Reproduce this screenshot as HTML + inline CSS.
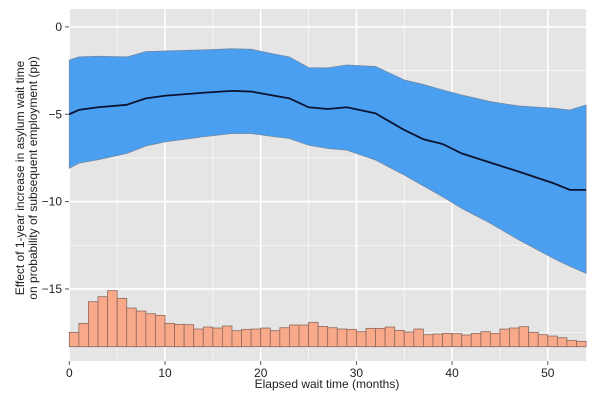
<!DOCTYPE html>
<html><head><meta charset="utf-8"><style>
html,body{margin:0;padding:0;background:#fff;}
svg{display:block;font-family:"Liberation Sans",sans-serif;}
</style></head><body>
<svg id="chart" width="593" height="405" viewBox="0 0 593 405">
<rect x="69" y="9" width="517" height="352" fill="#e5e5e5"/>
<g id="grid"></g>
<g id="band"></g>
<g id="mean"></g>
<g id="hist"></g>
<g id="axes"></g>
<text x="327" y="388" font-size="12" text-anchor="middle" fill="#222">Elapsed wait time (months)</text>
<text transform="translate(24,178) rotate(-90)" font-size="12" text-anchor="middle" fill="#222"><tspan x="0" dy="0">Effect of 1-year increase in asylum wait time</tspan><tspan x="0" dy="13">on probability of subsequent employment (pp)</tspan></text>
</svg>
<script>
const months=[0,1,3,6,8,10,14,17,19,21,23,25,27,29,32,35,37,39,41,44,47,50.6,52.3,54];
const meanVals=[-5.0,-4.75,-4.6,-4.46,-4.09,-3.94,-3.77,-3.66,-3.7,-3.9,-4.09,-4.6,-4.7,-4.6,-4.95,-5.9,-6.43,-6.7,-7.24,-7.77,-8.29,-8.95,-9.33,-9.33];
const upperVals=[-1.9,-1.72,-1.68,-1.72,-1.42,-1.38,-1.32,-1.25,-1.28,-1.51,-1.72,-2.33,-2.35,-2.18,-2.27,-3.04,-3.3,-3.61,-3.9,-4.28,-4.53,-4.66,-4.76,-4.47];
const lowerVals=[-8.09,-7.8,-7.6,-7.24,-6.82,-6.58,-6.29,-6.1,-6.1,-6.25,-6.39,-6.77,-6.96,-7.05,-7.62,-8.48,-9.1,-9.72,-10.38,-11.24,-12.2,-13.25,-13.7,-14.1];
const histCounts=[43,70,135,150,168,145,116,107,99,94,70,67,66,53,59,56,62,48,52,53,56,48,57,65,65,73,61,57,53,52,45,55,55,59,49,44,53,36,38,40,39,35,40,45,40,53,56,60,43,36,32,27,19,16];
const xTicks=[0,10,20,30,40,50];
const yTicks=[0,-5,-10,-15];
const NS="http://www.w3.org/2000/svg";
const X=m=>69.3+9.57*m;
const Y=v=>26.9-17.47*v;
const H=c=>346.7-c/3;
function mk(tag,attrs,parent){const e=document.createElementNS(NS,tag);for(const k in attrs)e.setAttribute(k,attrs[k]);parent.appendChild(e);return e;}
const grid=document.getElementById('grid');
for(let v=0;v>=-17.5;v-=2.5){const major=(v%5===0);
 const l=mk('line',{x1:69,x2:586,y1:Y(v),y2:Y(v),stroke:'#fff','stroke-width':major?1.6:0.6},grid);
 
 }
for(let m=0;m<=54;m+=5){const major=(m%10===0);
 const l=mk('line',{x1:X(m),x2:X(m),y1:9,y2:361,stroke:'#fff','stroke-width':major?1.6:0.6},grid);
 
 }
let d='M'+months.map((m,i)=>X(m)+','+Y(upperVals[i])).join('L');
for(let i=months.length-1;i>=0;i--)d+='L'+X(months[i])+','+Y(lowerVals[i]);
d+='Z';
const band=mk('path',{d:d,fill:'#4a9ff0',stroke:'#6d89a8','stroke-width':0.8},document.getElementById('band'));


const ml=mk('polyline',{points:months.map((m,i)=>X(m)+','+Y(meanVals[i])).join(' '),fill:'none',stroke:'#0a1430','stroke-width':1.8},document.getElementById('mean'));


const hg=document.getElementById('hist');
histCounts.forEach((c,i)=>{const r=mk('rect',{x:X(i),y:H(c),width:X(i+1)-X(i),height:346.7-H(c),fill:'#f7a98a',stroke:'#8f6a5c','stroke-width':0.8},hg);
 
 });
const ax=document.getElementById('axes');
xTicks.forEach(t=>{const l=mk('line',{x1:X(t),x2:X(t),y1:361,y2:365,stroke:'#555'},ax);
 
 
 const tx=mk('text',{x:X(t),y:377,'font-size':12,'text-anchor':'middle',fill:'#222'},ax);tx.textContent=t;
 
 });
yTicks.forEach(t=>{const l=mk('line',{x1:65,x2:69,y1:Y(t),y2:Y(t),stroke:'#555'},ax);
 
 
 const tx=mk('text',{x:62,y:Y(t)+4,'font-size':12,'text-anchor':'end',fill:'#222'},ax);tx.textContent=t===0?'0':'\u2212'+Math.abs(t);
 
 });
</script>
</body></html>
